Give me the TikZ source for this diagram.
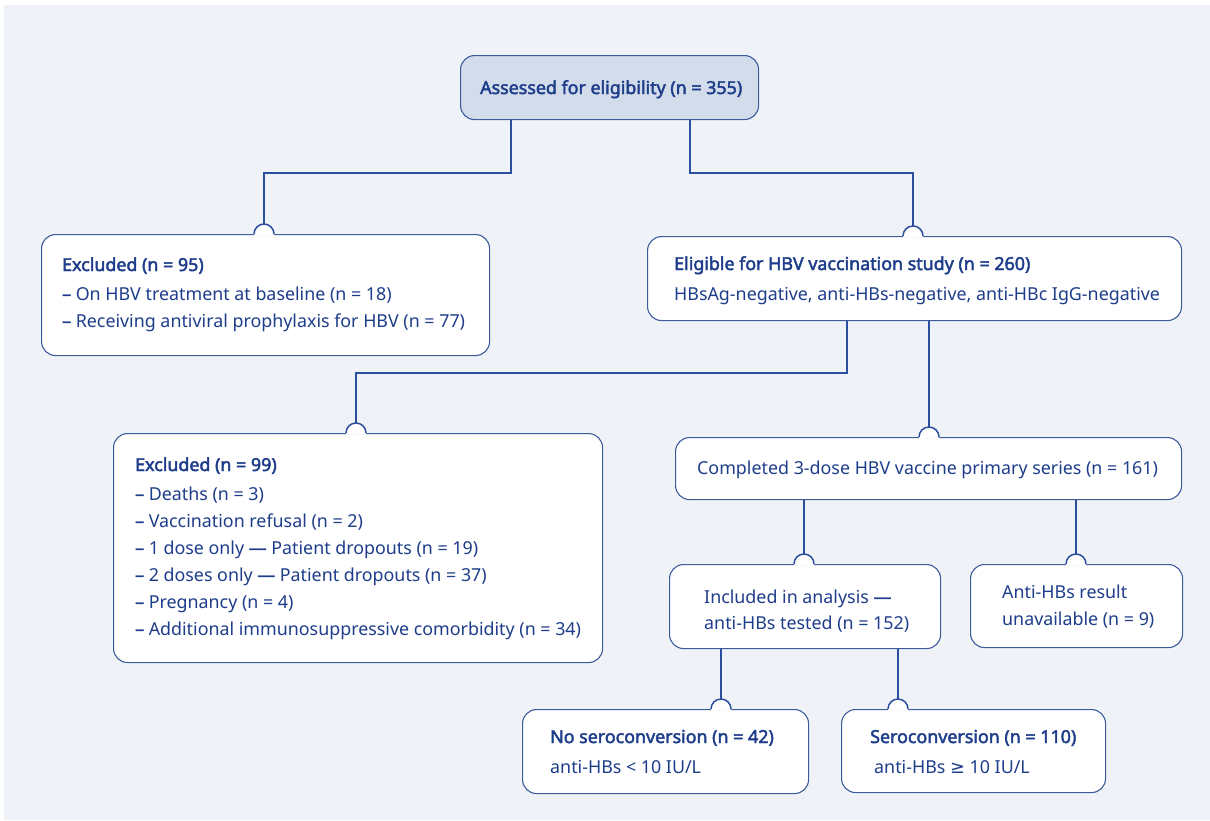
\documentclass[tikz,border=0pt]{standalone}
\usepackage{fontspec}
\setmainfont{Noto Sans}[BoldFont={Noto Sans},BoldFeatures={FakeBold=2.4}]
\newfontfamily\symfnt{DejaVu Sans}
\usetikzlibrary{calc}
\definecolor{bg}{HTML}{EFF3F8}
\definecolor{ink}{HTML}{1E3D8A}
\definecolor{wire}{HTML}{2B4E9E}
\definecolor{edge}{HTML}{3D5C9E}
\definecolor{topfill}{HTML}{D3DCEB}
\newcommand\jumpcap[2]{%
  \fill[white] (#1-10,#2+1.5) -- (#1-10,#2) arc[start angle=180,end angle=360,radius=10] -- (#1+10,#2+1.5) -- cycle;
  \draw[conn] (#1-10,#2) arc[start angle=180,end angle=360,radius=10];}
\newcommand\dsh{{\bfseries –} }
\newcommand\mdsh{{\bfseries —}}
\begin{document}
\begin{tikzpicture}[x=1pt,y=-1pt,
  box/.style={draw=edge,line width=1.1pt,fill=white,rounded corners=14pt,inner sep=0pt,anchor=north west},
  conn/.style={draw=wire,line width=1.5pt},
  txt/.style={anchor=base west,inner sep=0pt,text=ink,font=\fontsize{17.85}{21}\selectfont},
  hd/.style={anchor=base west,inner sep=0pt,text=ink,font=\fontsize{17.85}{21}\selectfont\bfseries}]
\fill[white] (0,0) rectangle (1210,820);
\fill[bg] (4,5) rectangle (1210,820);
\useasboundingbox (0,0) rectangle (1210,820);
% connector ends
\coordinate (j1) at (264,224);
\coordinate (j2) at (913,226);
\coordinate (j3) at (356,423);
\coordinate (j4) at (929,427);
\coordinate (j5) at (804,554);
\coordinate (j6) at (1076,554);
\coordinate (j7) at (721,699);
\coordinate (j8) at (898,699);
% boxes
\node[box,fill=topfill,minimum width=298pt,minimum height=64pt] (top) at (460,55) {};
\node[box,minimum width=448pt,minimum height=121pt] (ex95) at (41,234) {};
\node[box,minimum width=534pt,minimum height=84pt] (elig) at (647,236) {};
\node[box,minimum width=489pt,minimum height=229pt] (ex99) at (113,433) {};
\node[box,minimum width=506pt,minimum height=62pt] (comp) at (675,437) {};
\node[box,minimum width=271pt,minimum height=84pt] (incl) at (669,564) {};
\node[box,minimum width=212pt,minimum height=83pt] (unav) at (970,564) {};
\node[box,minimum width=286pt,minimum height=84pt] (nos) at (522,709) {};
\node[box,minimum width=264pt,minimum height=83pt] (ser) at (841,709) {};
\draw[conn] ($(top.south west)+(51,0)$) -- ++(0,53) -| (j1);
\draw[conn] ($(top.south west)+(230,0)$) -- ++(0,53) -| (j2);
\draw[conn] ($(elig.south west)+(200,0)$) -- ++(0,52) -| (j3);
\draw[conn] ($(elig.south west)+(282,0)$) -- (j4);
\draw[conn] ($(comp.south west)+(129,0)$) -- (j5);
\draw[conn] ($(comp.south west)+(401,0)$) -- (j6);
\draw[conn] ($(incl.south west)+(52,0)$) -- (j7);
\draw[conn] ($(incl.south west)+(229,0)$) -- (j8);
\jumpcap{264}{234}
\jumpcap{913}{236}
\jumpcap{356}{433}
\jumpcap{929}{437}
\jumpcap{804}{564}
\jumpcap{1076}{564}
\jumpcap{721}{709}
\jumpcap{898}{709}
% texts
\node[hd] (t1) at (480,94) {Assessed for eligibility (n = 355)};
\node[hd] (t2) at (62,271) {Excluded (n = 95)};
\node[txt] (t3) at (62,300) {\dsh On HBV treatment at baseline (n = 18)};
\node[txt] (t4) at (62,327) {\dsh Receiving antiviral prophylaxis for HBV (n = 77)};
\node[hd] (t5) at (674,270) {Eligible for HBV vaccination study (n = 260)};
\node[txt] (t6) at (674,300) {HBsAg-negative, anti-HBs-negative, anti-HBc IgG-negative};
\node[hd] (t7) at (135,471) {Excluded (n = 99)};
\node[txt] (t8) at (135,500) {\dsh Deaths (n = 3)};
\node[txt] (t9) at (135,527) {\dsh Vaccination refusal (n = 2)};
\node[txt] (t10) at (135,554) {\dsh 1 dose only \mdsh{} Patient dropouts (n = 19)};
\node[txt] (t11) at (135,581) {\dsh 2 doses only \mdsh{} Patient dropouts (n = 37)};
\node[txt] (t12) at (135,608) {\dsh Pregnancy (n = 4)};
\node[txt] (t13) at (135,635) {\dsh Additional immunosuppressive comorbidity (n = 34)};
\node[txt] (t14) at (697,474) {Completed 3-dose HBV vaccine primary series (n = 161)};
\node[txt] (t15) at (704,603) {Included in analysis \mdsh};
\node[txt] (t16) at (704,629) {anti-HBs tested (n = 152)};
\node[txt] (t17) at (1002,598) {Anti-HBs result};
\node[txt] (t18) at (1002,625) {unavailable (n = 9)};
\node[hd] (t19) at (550,743) {No seroconversion (n = 42)};
\node[txt] (t20) at (550,773) {anti-HBs < 10 IU/L};
\node[hd] (t21) at (870,743) {Seroconversion (n = 110)};
\node[txt] (t22) at (874,773) {anti-HBs {\symfnt ≥} 10 IU/L};
\end{tikzpicture}
\end{document}
